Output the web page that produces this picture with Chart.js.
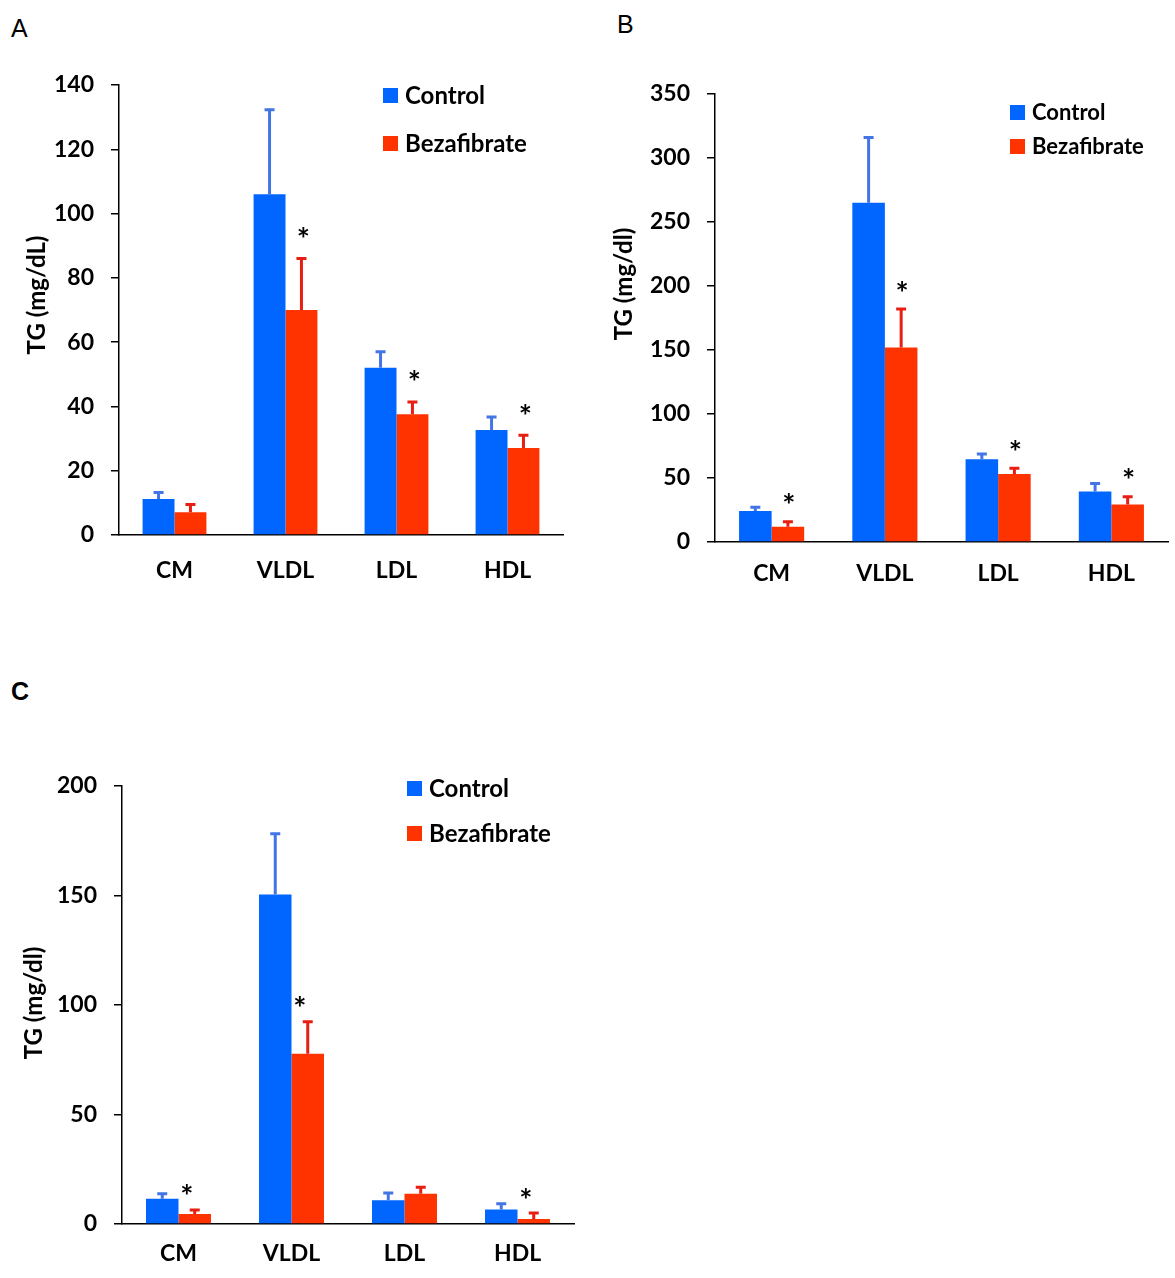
<!DOCTYPE html>
<html>
<head>
<meta charset="utf-8">
<script src="https://cdn.jsdelivr.net/npm/chart.js@4.4.0/dist/chart.umd.min.js"></script>
<style>
  body { margin: 0; background: #fff; }
  #wrap { position: relative; width: 1175px; height: 1278px; overflow: hidden; }
  canvas { position: absolute; }
  .tag { position: absolute; font-family: "Liberation Sans", Arial, sans-serif; font-size: 25px; color: #000; }
</style>
</head>
<body>
<div id="wrap">
  <div class="tag" style="left:11px;top:14px;">A</div>
  <div class="tag" style="left:617px;top:10px;">B</div>
  <div class="tag" style="left:11px;top:677px;font-weight:bold;">C</div>
  <canvas id="chartA" width="600" height="620" style="left:0;top:0;"></canvas>
  <canvas id="chartB" width="575" height="620" style="left:600px;top:0;"></canvas>
  <canvas id="chartC" width="600" height="638" style="left:0;top:640px;"></canvas>
</div>
<script>
const categories = ["CM", "VLDL", "LDL", "HDL"];
const seriesNames = ["Control", "Bezafibrate"];

// panel A - TG (mg/dL)
const controlA = [11.2, 106, 52, 32.7];
const controlA_sd = [2, 26.3, 5, 4];
const bezaA = [7.1, 70, 37.6, 27.1];
const bezaA_sd = [2.4, 16, 3.8, 3.9];
const starsA = [false, true, true, true];
const yMaxA = 140, yStepA = 20;

// panel B
const controlB = [24.2, 265, 64.6, 39.5];
const controlB_sd = [3, 51, 4.2, 6.2];
const bezaB = [12, 152, 53.2, 29.3];
const bezaB_sd = [3.8, 30, 4.5, 6];
const starsB = [true, true, true, true];
const yMaxB = 350, yStepB = 50;

// panel C
const controlC = [11.5, 150.4, 10.8, 6.6];
const controlC_sd = [2.3, 27.8, 3.4, 2.6];
const bezaC = [4.6, 77.7, 13.8, 2.3];
const bezaC_sd = [1.8, 14.7, 3, 2.7];
const starsC = [true, true, false, true];
const yMaxC = 200, yStepC = 50;

const BLUE = "#0066ff", RED = "#ff3300";
const BLUE_ERR = "#4375e6", RED_ERR = "#e81e12";
const FONT = "Lato, 'Open Sans', sans-serif";
const WEIGHT = "bold";

const errorBars = {
  id: "errorBars",
  afterDatasetsDraw(chart) {
    const ctx = chart.ctx, y = chart.scales.y;
    chart.data.datasets.forEach((ds, i) => {
      chart.getDatasetMeta(i).data.forEach((bar, j) => {
        const top = y.getPixelForValue(ds.data[j] + ds.sd[j]);
        ctx.save();
        ctx.strokeStyle = ds.errColor;
        ctx.lineWidth = 3;
        ctx.beginPath();
        ctx.moveTo(bar.x, bar.y);
        ctx.lineTo(bar.x, top);
        ctx.moveTo(bar.x - 5, top);
        ctx.lineTo(bar.x + 5, top);
        ctx.stroke();
        ctx.restore();
      });
    });
  },
};

const stars = {
  id: "stars",
  afterDatasetsDraw(chart, args, o) {
    const ctx = chart.ctx, y = chart.scales.y;
    const ds = chart.data.datasets[1];
    const meta = chart.getDatasetMeta(1);
    ctx.save();
    ctx.fillStyle = "#000";
    ctx.font = WEIGHT + " 31px " + FONT;
    ctx.textAlign = "center";
    ctx.textBaseline = "alphabetic";
    const m = ctx.measureText("*");
    const shift = (m.actualBoundingBoxAscent - m.actualBoundingBoxDescent) / 2;
    meta.data.forEach((bar, j) => {
      if (!ds.stars[j]) return;
      const top = y.getPixelForValue(ds.data[j] + ds.sd[j]);
      ctx.fillText("*", bar.x + o.dx, top - o.gap + shift);
    });
    ctx.restore();
  },
};

const boxLegend = {
  id: "boxLegend",
  afterDraw(chart, args, o) {
    const ctx = chart.ctx;
    ctx.save();
    ctx.font = WEIGHT + " " + o.size + "px " + FONT;
    ctx.textBaseline = "middle";
    chart.data.datasets.forEach((ds, i) => {
      const cy = o.ys[i];
      ctx.fillStyle = ds.backgroundColor;
      ctx.fillRect(o.x, cy - 7, 15, 15);
      ctx.fillStyle = "#000";
      ctx.fillText(ds.label, o.x + 22, cy + 1);
    });
    ctx.restore();
  },
};

const yTitle = {
  id: "yTitle",
  afterDraw(chart, args, o) {
    const ctx = chart.ctx;
    ctx.save();
    ctx.translate(o.x, o.y);
    ctx.rotate(-Math.PI / 2);
    ctx.font = WEIGHT + " 24px " + FONT;
    ctx.fillStyle = "#000";
    ctx.textAlign = "center";
    ctx.textBaseline = "middle";
    ctx.fillText(o.text, 0, 0);
    ctx.restore();
  },
};

function makePanel(id, control, controlSd, beza, bezaSd, sig, yMax, yStep, lay) {
  return new Chart(document.getElementById(id).getContext("2d"), {
    type: "bar",
    data: {
      labels: categories,
      datasets: [
        { label: seriesNames[0], data: control, sd: controlSd, errColor: BLUE_ERR, backgroundColor: BLUE },
        { label: seriesNames[1], data: beza, sd: bezaSd, errColor: RED_ERR, backgroundColor: RED, stars: sig },
      ],
    },
    options: {
      responsive: false,
      animation: false,
      categoryPercentage: 0.575,
      barPercentage: 1,
      layout: { padding: { top: lay.top, right: lay.right, left: 0, bottom: 0 } },
      scales: {
        x: {
          grid: { display: false, drawTicks: false },
          border: { display: true, color: "#000", width: 1.5 },
          ticks: { color: "#000", padding: lay.xPad, font: { family: FONT, size: 23, weight: WEIGHT } },
          afterFit: (s) => { s.height = lay.xH; },
        },
        y: {
          min: 0,
          max: yMax,
          grid: { display: true, drawOnChartArea: false, drawTicks: true, tickLength: 8, color: "#000", lineWidth: 1.5 },
          border: { display: true, color: "#000", width: 1.5 },
          ticks: { stepSize: yStep, color: "#000", padding: 17, font: { family: FONT, size: 23, weight: WEIGHT } },
          afterFit: (s) => { s.width = lay.yW; },
        },
      },
      plugins: {
        legend: { display: false },
        tooltip: { enabled: false },
        stars: { dx: lay.starDx, gap: lay.starGap },
        boxLegend: { x: lay.legX, ys: lay.legYs, size: lay.legSize },
        yTitle: { text: lay.title, x: lay.titleX, y: lay.titleY },
      },
    },
    plugins: [errorBars, stars, boxLegend, yTitle],
  });
}

makePanel("chartA", controlA, controlA_sd, bezaA, bezaA_sd, starsA, yMaxA, yStepA, {
  top: 85, right: 37, yW: 119, xH: 85, xPad: 22,
  starDx: 2, starGap: 26,
  legX: 383, legYs: [95, 143], legSize: 24,
  title: "TG (mg/dL)", titleX: 37, titleY: 295,
});

makePanel("chartB", controlB, controlB_sd, bezaB, bezaB_sd, starsB, yMaxB, yStepB, {
  top: 94, right: 7, yW: 115, xH: 78, xPad: 18,
  starDx: 1, starGap: 23,
  legX: 410, legYs: [112, 146], legSize: 22,
  title: "TG (mg/dl)", titleX: 24, titleY: 284,
});

makePanel("chartC", controlC, controlC_sd, bezaC, bezaC_sd, starsC, yMaxC, yStepC, {
  top: 146, right: 26, yW: 122, xH: 54, xPad: 16,
  starDx: -8, starGap: 20,
  legX: 407, legYs: [148, 193], legSize: 24,
  title: "TG (mg/dl)", titleX: 34, titleY: 363,
});
</script>
</body>
</html>
